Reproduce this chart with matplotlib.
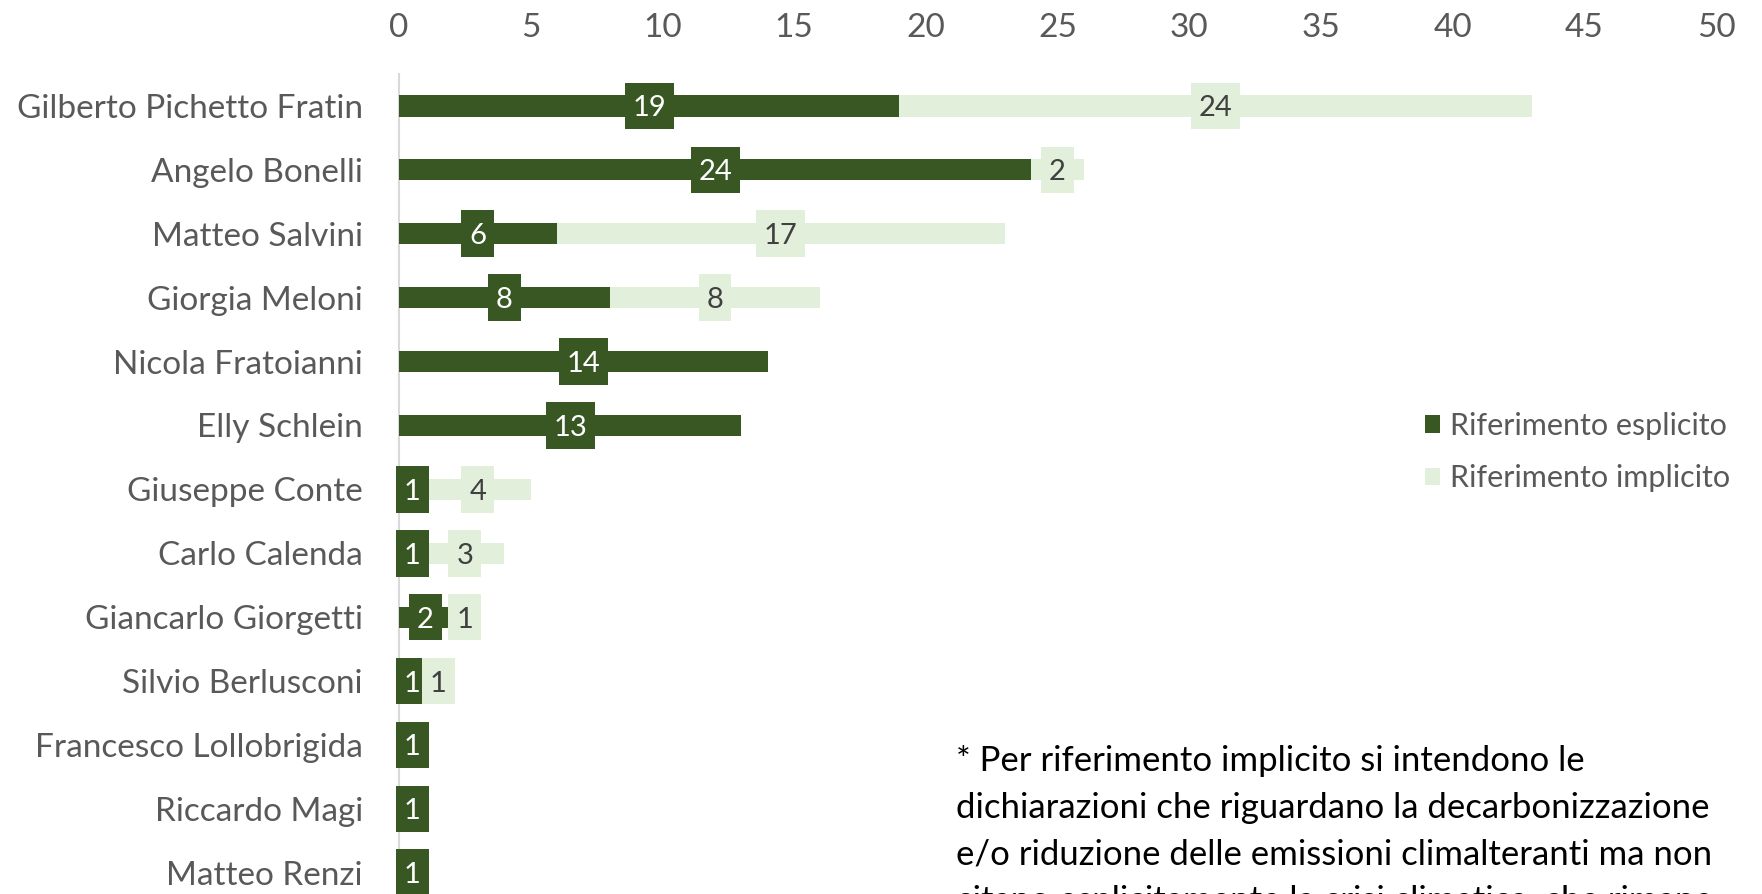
import matplotlib
matplotlib.use("Agg")
import matplotlib.pyplot as plt

# mentions per politician
names = ["Gilberto Pichetto Fratin", "Angelo Bonelli", "Matteo Salvini", "Giorgia Meloni",
         "Nicola Fratoianni", "Elly Schlein", "Giuseppe Conte", "Carlo Calenda",
         "Giancarlo Giorgetti", "Silvio Berlusconi", "Francesco Lollobrigida",
         "Riccardo Magi", "Matteo Renzi"]
esplicito = [19, 24, 6, 8, 14, 13, 1, 1, 2, 1, 1, 1, 1]
implicito = [24, 2, 17, 8, 0, 0, 4, 3, 1, 1, 0, 0, 0]
xticks = [0, 5, 10, 15, 20, 25, 30, 35, 40, 45, 50]

note = ["* Per riferimento implicito si intendono le",
        "dichiarazioni che riguardano la decarbonizzazione",
        "e/o riduzione delle emissioni climalteranti ma non",
        "citano esplicitamente la crisi climatica, che rimane"]

DARK = "#385723"
LIGHT = "#E2EFDA"
GREY = "#595959"
FONT = "Lato"

fig = plt.figure(figsize=(17.62, 8.94), dpi=100)
ax = fig.add_axes([0.2264, -0.012, 0.7475, 0.9292])

y = list(range(len(names)))
bar_h = 0.33
b1 = ax.barh(y, esplicito, height=bar_h, color=DARK, label="Riferimento esplicito", zorder=2)
b2 = ax.barh(y, implicito, left=esplicito, height=bar_h, color=LIGHT,
             label="Riferimento implicito", zorder=2)

# label boxes, a bit taller than the bars
box_h = 0.73


def box_w(v):
    return 0.64 + 0.61 * len(str(v))


def put_labels(vals, lefts, fc, tc, z):
    for i, (v, l) in enumerate(zip(vals, lefts)):
        if v == 0:
            continue
        c = l + v / 2
        w = box_w(v)
        bb = ax.barh(i, w, left=c - w / 2, height=box_h, color=fc, zorder=z)
        for p in bb:
            p.set_clip_on(False)
        ax.text(c, i, str(v), ha="center", va="center_baseline", color=tc, fontsize=21,
                family=FONT, zorder=z + 0.5)


put_labels(esplicito, [0] * len(names), DARK, "white", 3)
put_labels(implicito, esplicito, LIGHT, "#404040", 4)

ax.set_xlim(0, 50)
ax.set_ylim(len(names) - 0.5, -0.5)
ax.xaxis.tick_top()
ax.set_xticks(xticks)
ax.set_yticks(y)
ax.set_yticklabels(names)
ax.tick_params(axis="both", length=0, labelsize=24, labelcolor=GREY)
ax.tick_params(axis="x", pad=22)
ax.tick_params(axis="y", pad=26)
for lab in ax.get_xticklabels() + ax.get_yticklabels():
    lab.set_family(FONT)

for s in ["top", "right", "bottom"]:
    ax.spines[s].set_visible(False)
ax.spines["left"].set_color("#D9D9D9")
ax.spines["left"].set_linewidth(1.5)
ax.spines["left"].set_zorder(1)

leg = fig.legend(handles=[b1, b2], loc="center left", bbox_to_anchor=(0.8087, 0.4944),
                 frameon=False, borderpad=0, borderaxespad=0, handlelength=0.5,
                 handleheight=0.5, handletextpad=0.32, labelspacing=0.8,
                 prop={"family": FONT, "size": 22})
for t in leg.get_texts():
    t.set_color(GREY)

for k, line in enumerate(note):
    fig.text(0.5426, 1 - (761 + 46.6 * k) / 894, line, ha="left", va="center",
             fontsize=25, family=FONT, color="black")

fig.savefig("out.png", dpi=100)
